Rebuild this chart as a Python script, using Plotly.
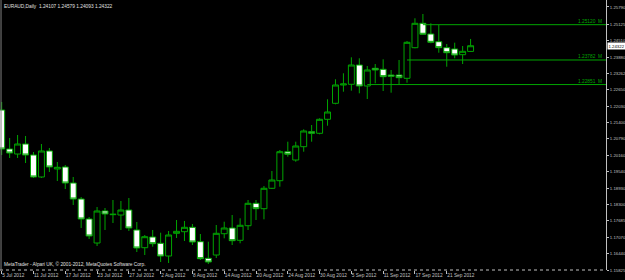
import plotly.graph_objects as go

dates = ["2012-07-05","2012-07-06","2012-07-09","2012-07-10","2012-07-11","2012-07-12","2012-07-13",
         "2012-07-16","2012-07-17","2012-07-18","2012-07-19","2012-07-20","2012-07-23","2012-07-24",
         "2012-07-25","2012-07-26","2012-07-27","2012-07-30","2012-07-31","2012-08-01","2012-08-02",
         "2012-08-03","2012-08-06","2012-08-07","2012-08-08","2012-08-09","2012-08-10","2012-08-13",
         "2012-08-14","2012-08-15","2012-08-16","2012-08-17","2012-08-20","2012-08-21","2012-08-22",
         "2012-08-23","2012-08-24","2012-08-27","2012-08-28","2012-08-29","2012-08-30","2012-08-31",
         "2012-09-03","2012-09-04","2012-09-05","2012-09-06","2012-09-07","2012-09-10","2012-09-11",
         "2012-09-12","2012-09-13","2012-09-14","2012-09-17","2012-09-18","2012-09-19","2012-09-20",
         "2012-09-21","2012-09-24","2012-09-25","2012-09-26"]

opens = [1.21887, 1.20410, 1.20220, 1.20599, 1.20182, 1.19349, 1.20334, 1.19652, 1.19728, 1.19121,
         1.18515, 1.17757, 1.16848, 1.18060, 1.17921, 1.17909, 1.18098, 1.17341, 1.16670, 1.17075,
         1.16837, 1.16355, 1.17215, 1.17276, 1.17443, 1.16897, 1.16268, 1.16393, 1.17200, 1.17416,
         1.16950, 1.17503, 1.18352, 1.18148, 1.18921, 1.19208, 1.20307, 1.19993, 1.20497, 1.21065,
         1.21004, 1.21535, 1.22141, 1.22835, 1.22861, 1.23592, 1.22797, 1.23467, 1.23429, 1.23213,
         1.23213, 1.23088, 1.24248, 1.25172, 1.24767, 1.24475, 1.24248, 1.24199, 1.23983, 1.24107]

highs = [1.22190, 1.20826, 1.20940, 1.20902, 1.20296, 1.20599, 1.20448, 1.19917, 1.19803, 1.19349,
         1.18591, 1.17833, 1.18212, 1.18174, 1.18477, 1.18439, 1.18553, 1.17644, 1.17151, 1.17341,
         1.17238, 1.17303, 1.17719, 1.17682, 1.17568, 1.17189, 1.16897, 1.17530, 1.17655, 1.17909,
         1.17784, 1.18477, 1.18477, 1.19008, 1.19576, 1.20372, 1.20686, 1.20686, 1.21156, 1.21319,
         1.21573, 1.22293, 1.23051, 1.23278, 1.23884, 1.23846, 1.23554, 1.23630, 1.23808, 1.23403,
         1.23782, 1.24502, 1.25362, 1.25525, 1.25172, 1.25108, 1.24388, 1.24437, 1.24312, 1.24579]

lows = [1.20182, 1.20069, 1.20069, 1.19879, 1.19311, 1.19311, 1.19538, 1.19197, 1.18894, 1.18288,
        1.17416, 1.17000, 1.16734, 1.17341, 1.17606, 1.17341, 1.17303, 1.16507, 1.16393, 1.16708,
        1.16128, 1.16090, 1.17037, 1.16924, 1.16772, 1.16204, 1.16052, 1.16280, 1.17026, 1.16772,
        1.16837, 1.17341, 1.17719, 1.17746, 1.18894, 1.18981, 1.20118, 1.19928, 1.20307, 1.20686,
        1.20967, 1.21292, 1.22103, 1.22581, 1.22619, 1.22520, 1.22304, 1.22899, 1.22607, 1.22543,
        1.22872, 1.22922, 1.24225, 1.24729, 1.24415, 1.24058, 1.23528, 1.23846, 1.23630, 1.24093]

closes = [1.20410, 1.20258, 1.20599, 1.20182, 1.19349, 1.20334, 1.19728, 1.19716, 1.19121, 1.18515,
          1.17757, 1.17113, 1.18060, 1.17947, 1.17936, 1.18098, 1.17416, 1.16659, 1.17087, 1.16821,
          1.16355, 1.17151, 1.17290, 1.17443, 1.16886, 1.16253, 1.16128, 1.17215, 1.17416, 1.16935,
          1.17519, 1.18352, 1.18148, 1.18921, 1.19235, 1.20307, 1.20209, 1.20523, 1.21092, 1.21004,
          1.21535, 1.21812, 1.22835, 1.22872, 1.23592, 1.22797, 1.23403, 1.23403, 1.23149, 1.23164,
          1.23111, 1.24452, 1.25172, 1.24756, 1.24452, 1.24248, 1.24058, 1.23971, 1.24111, 1.24322]

price_ticks = [1.25790, 1.25125, 1.24510, 1.23880, 1.23262, 1.22650, 1.22030, 1.21400, 1.20790,
               1.20160, 1.19540, 1.18930, 1.18300, 1.17685, 1.17070, 1.16440, 1.15825]

date_tick_labels = ["5 Jul 2012", "11 Jul 2012", "17 Jul 2012", "23 Jul 2012", "27 Jul 2012",
                    "2 Aug 2012", "8 Aug 2012", "14 Aug 2012", "20 Aug 2012", "24 Aug 2012",
                    "30 Aug 2012", "5 Sep 2012", "11 Sep 2012", "17 Sep 2012", "21 Sep 2012"]
date_tick_vals = dates[0::4][:len(date_tick_labels)]

level_values = [1.25120, 1.23782, 1.22851]
level_labels = ["1.25120  M", "1.23782  M", "1.22851  M"]
level_start = ["2012-09-18", "2012-09-14", "2012-09-07"]

current_price = 1.24322
title_text = "EURAUD,Daily  1.24107 1.24579 1.24093 1.24322"
footer_text = "MetaTrader - Alpari UK, \u00a9 2001-2012, MetaQuotes Software Corp."

GREEN = "rgb(0,165,0)"
GRAY = "#c0c0c0"
FONT = "Liberation Sans"
FS = 4.8
FS_Y = 4.3

fig = go.Figure()
fig.add_trace(go.Candlestick(
    x=dates, open=opens, high=highs, low=lows, close=closes,
    increasing=dict(fillcolor="black", line=dict(color=GREEN, width=1)),
    decreasing=dict(fillcolor="white", line=dict(color=GREEN, width=1)),
    whiskerwidth=0, hoverinfo="skip", showlegend=False,
))

shapes = []
for v, s in zip(level_values, level_start):
    shapes.append(dict(type="line", xref="x", yref="y", x0=dates.index(s), x1=80,
                       y0=v, y1=v, line=dict(color=GREEN, width=1)))
shapes.append(dict(type="line", xref="paper", yref="paper", x0=0, x1=1, y0=0, y1=0,
                   line=dict(color=GRAY, width=1, dash="dot")))
shapes.append(dict(type="line", xref="paper", yref="paper", x0=0.0017, x1=0.0017, y0=0, y1=1,
                   line=dict(color="#808080", width=1)))

annotations = []
for v, t in zip(level_values, level_labels):
    annotations.append(dict(xref="paper", yref="y", x=0.997, y=v, text=t, showarrow=False,
                            xanchor="right", yanchor="bottom", yshift=-1,
                            font=dict(family=FONT, size=FS, color=GREEN)))
annotations.append(dict(xref="paper", yref="y", x=1.0, xshift=1, y=current_price,
                        text=f"{current_price:.5f}", showarrow=False, xanchor="left", yanchor="middle",
                        bgcolor="white", borderpad=0.5,
                        font=dict(family=FONT, size=FS_Y, color="black")))
annotations.append(dict(xref="paper", yref="paper", x=0.004, y=1, yshift=-2, text=title_text,
                        showarrow=False, xanchor="left", yanchor="top",
                        font=dict(family=FONT, size=FS, color="#e0e0e0")))
annotations.append(dict(xref="paper", yref="paper", x=0.004, y=0, yshift=1, text=footer_text,
                        showarrow=False, xanchor="left", yanchor="bottom",
                        font=dict(family=FONT, size=FS, color="#e0e0e0")))

fig.update_layout(
    width=625, height=280,
    margin=dict(l=0, r=19, t=0, b=10, pad=0),
    paper_bgcolor="black", plot_bgcolor="black",
    showlegend=False,
    boxgap=0.25, boxgroupgap=0,
    shapes=shapes, annotations=annotations,
    xaxis=dict(type="category", range=[-0.214, 76.04], rangeslider=dict(visible=False),
               showgrid=False, zeroline=False, showline=False,
               tickmode="array", tickvals=date_tick_vals, ticktext=date_tick_labels,
               ticks="outside", ticklen=3, tickcolor=GRAY, ticklabelposition="outside right",
               tickfont=dict(family=FONT, size=FS, color=GRAY), tickangle=0, automargin=False),
    yaxis=dict(side="right", range=[1.15825, 1.26055], showgrid=False, zeroline=False,
               showline=True, linecolor=GRAY, linewidth=1,
               tickmode="array", tickvals=price_ticks, ticktext=[f"{v:.5f}" for v in price_ticks],
               ticks="outside", ticklen=2, tickcolor=GRAY, ticklabelstandoff=0,
               tickfont=dict(family=FONT, size=FS_Y, color=GRAY), automargin=False),
)

fig.write_html("out.html")
